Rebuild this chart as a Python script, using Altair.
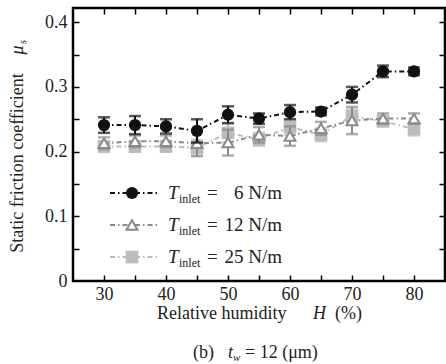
import altair as alt
import pandas as pd

# ---------------- data ----------------
H = [30, 35, 40, 45, 50, 55, 60, 65, 70, 75, 80]
mu_6 = [0.241, 0.241, 0.239, 0.232, 0.257, 0.251, 0.261, 0.262, 0.288, 0.324, 0.324]
err_6 = [0.012, 0.014, 0.011, 0.018, 0.013, 0.008, 0.011, 0.006, 0.012, 0.009, 0.006]
mu_12 = [0.213, 0.216, 0.216, 0.213, 0.214, 0.226, 0.224, 0.236, 0.248, 0.251, 0.251]
err_12 = [0.009, 0.009, 0.009, 0.020, 0.020, 0.012, 0.015, 0.010, 0.021, 0.008, 0.008]
mu_25 = [0.208, 0.208, 0.208, 0.206, 0.229, 0.219, 0.238, 0.226, 0.255, 0.247, 0.235]
err_25 = [0.008, 0.008, 0.008, 0.012, 0.015, 0.010, 0.012, 0.010, 0.010, 0.008, 0.010]

series_names = ["6 N/m", "12 N/m", "25 N/m"]
x_ticks = [30, 35, 40, 45, 50, 55, 60, 65, 70, 75, 80]
x_labels = [30, 40, 50, 60, 70, 80]
y_ticks = [0.05, 0.1, 0.15, 0.2, 0.25, 0.3, 0.35, 0.4]
y_labels = [0, 0.1, 0.2, 0.3, 0.4]

# ---------------- styles ----------------
W, HGT = 372, 273
FONT = "Liberation Serif"
FS = 18
TXT = "#222222"
styles = {
    "6 N/m": dict(color="#111111", shape="circle", filled=True, size=150),
    "12 N/m": dict(color="#8a8a8a", shape="triangle-up", filled=False, size=120),
    "25 N/m": dict(color="#bcbcbc", shape="square", filled=True, size=160),
}
DASH = [5, 3, 1.5, 3]

rows = []
for name, mus, errs in [("6 N/m", mu_6, err_6), ("12 N/m", mu_12, err_12), ("25 N/m", mu_25, err_25)]:
    for h, m, e in zip(H, mus, errs):
        rows.append({"H": h, "mu": m, "lo": m - e, "hi": m + e, "series": name})
df = pd.DataFrame(rows)

xs = alt.Scale(domain=[25, 85], nice=False)
ys = alt.Scale(domain=[0, 0.422], nice=False)

ax_label_x = alt.Axis(orient="bottom", values=x_labels, ticks=False, tickSize=0, domain=False, grid=False,
                      labelFont=FONT, labelFontSize=FS, labelColor=TXT, labelBaseline="alphabetic",
                      labelPadding=18, title=None)
ax_label_y = alt.Axis(orient="left", values=y_labels, ticks=False, tickSize=0, domain=False, grid=False,
                      format=".1~f", labelFont=FONT, labelFontSize=FS, labelColor=TXT, labelPadding=6, title=None)
ax_tick_xb = alt.Axis(orient="top", offset=-HGT, values=x_ticks, labels=False, domain=False, grid=False,
                      tickSize=6, tickWidth=1.5, tickColor="black", title=None)
ax_tick_xt = alt.Axis(orient="bottom", offset=-HGT, values=x_ticks, labels=False, domain=False, grid=False,
                      tickSize=6, tickWidth=1.5, tickColor="black", title=None)
ax_tick_yl = alt.Axis(orient="right", offset=-W, values=y_ticks, labels=False, domain=False, grid=False,
                      tickSize=6, tickWidth=1.5, tickColor="black", title=None)
ax_tick_yr = alt.Axis(orient="left", offset=-W, values=y_ticks, labels=False, domain=False, grid=False,
                      tickSize=6, tickWidth=1.5, tickColor="black", title=None)

layers = []
axis_sets = [(ax_label_x, ax_label_y), (ax_tick_xb, ax_tick_yl), (ax_tick_xt, ax_tick_yr)]
ai = 0


def nxt():
    global ai
    if ai < len(axis_sets):
        a = axis_sets[ai]
        ai += 1
        return a
    return (None, None)


for name in ["25 N/m", "12 N/m", "6 N/m"]:
    st = styles[name]
    sub = df[df.series == name]
    base = alt.Chart(sub)
    axx, axy = nxt()
    layers.append(base.mark_line(color=st["color"], strokeDash=DASH, strokeWidth=2).encode(
        x=alt.X("H:Q", scale=xs, axis=axx), y=alt.Y("mu:Q", scale=ys, axis=axy)))
    axx, axy = nxt()
    layers.append(base.mark_rule(color=st["color"], strokeWidth=2).encode(
        x=alt.X("H:Q", scale=xs, axis=axx), y=alt.Y("lo:Q", scale=ys, axis=axy), y2="hi:Q"))
    axx, axy = nxt()
    layers.append(base.mark_tick(orient="horizontal", size=12, thickness=2.5, color=st["color"]).encode(
        x=alt.X("H:Q", scale=xs, axis=axx), y=alt.Y("lo:Q", scale=ys, axis=axy)))
    layers.append(base.mark_tick(orient="horizontal", size=12, thickness=2.5, color=st["color"]).encode(
        x=alt.X("H:Q", scale=xs, axis=None), y=alt.Y("hi:Q", scale=ys, axis=None)))
    if st["filled"]:
        pm = base.mark_point(shape=st["shape"], filled=True, size=st["size"], color=st["color"], opacity=1)
    else:
        pm = base.mark_point(shape=st["shape"], filled=False, size=st["size"], color=st["color"],
                             fill="white", fillOpacity=1, strokeWidth=2, opacity=1)
    layers.append(pm.encode(x=alt.X("H:Q", scale=xs, axis=None), y=alt.Y("mu:Q", scale=ys, axis=None)))

one = pd.DataFrame({"a": [0]})


def txt(s, x, y, size=FS, style="normal", align="left", angle=0, baseline="middle"):
    kw = dict(font=FONT, fontSize=size, fontStyle=style, align=align, baseline=baseline, color=TXT)
    if angle:
        kw["angle"] = angle
    return alt.Chart(one).mark_text(**kw).encode(x=alt.value(x), y=alt.value(y), text=alt.value(s))


# legend
leg_rows = [("6 N/m", 185, "=", "6 N/m"), ("12 N/m", 217, "=", "12 N/m"), ("25 N/m", 249, "=", "25 N/m")]
for name, yy, eq, val in leg_rows:
    st = styles[name]
    layers.append(alt.Chart(one).mark_rule(color=st["color"], strokeDash=DASH, strokeWidth=2).encode(
        x=alt.value(37), x2=alt.value(84), y=alt.value(yy)))
    if st["filled"]:
        lp = alt.Chart(one).mark_point(shape=st["shape"], filled=True, size=st["size"], color=st["color"], opacity=1)
    else:
        lp = alt.Chart(one).mark_point(shape=st["shape"], filled=False, size=st["size"], color=st["color"],
                                       fill="white", fillOpacity=1, strokeWidth=2, opacity=1)
    layers.append(lp.encode(x=alt.value(59), y=alt.value(yy)))
    layers.append(txt("T", 95, yy, size=19, style="italic"))
    layers.append(txt("inlet", 106, yy + 6, size=12))
    layers.append(txt(eq, 134, yy, size=19))
    layers.append(txt(val, 209, yy, size=19, align="right"))

# x title
layers.append(txt("Relative humidity", 84, 306))
layers.append(txt("H", 240, 306, style="italic"))
layers.append(txt("(%)", 262, 306))
# caption
layers.append(txt("(b)", 120, 345))
layers.append(txt("t", 155, 345, style="italic"))
layers.append(txt("w", 160, 350, size=11, style="italic"))
layers.append(txt("= 12 (\u03bcm)", 172, 345))
# y title
layers.append(txt("Static friction coefficient", -55, 155, angle=270, align="center"))
layers.append(txt("\u03bc", -55, 42, angle=270, style="italic", align="center"))
layers.append(txt("s", -50, 34, size=11, angle=270, style="italic", align="center"))

chart = alt.layer(*layers).resolve_axis(x="independent", y="independent").properties(
    width=W, height=HGT,
    autosize=alt.AutoSizeParams(type="none"),
    padding={"left": 73, "top": 8, "right": 1, "bottom": 83},
    background="white",
).configure_view(stroke="black", strokeWidth=2.5)

chart.save("out.html", embed_options={"renderer": "svg", "actions": False})
